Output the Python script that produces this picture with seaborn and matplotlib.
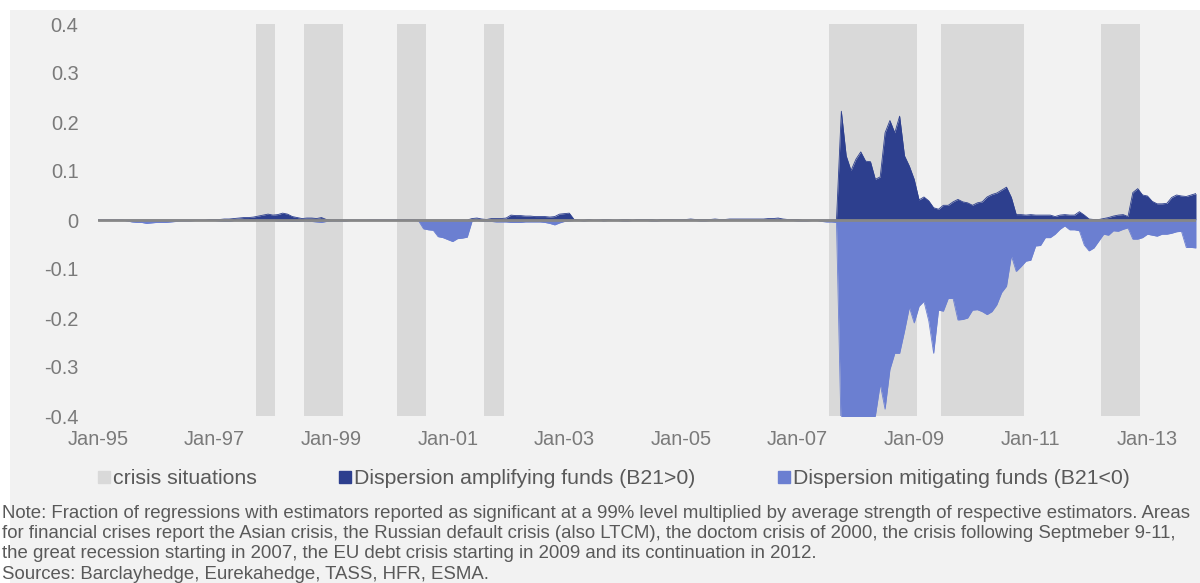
import numpy as np
import pandas as pd
import matplotlib
matplotlib.use("Agg")
import matplotlib.pyplot as plt
import seaborn as sns
from matplotlib.lines import Line2D
from matplotlib.patches import Rectangle

START_MONTH = "1995-01"

# Monthly values, Jan-95 .. Nov-13 (one row per year)
AMPLIFYING = [
    0, 0, 0, 0, 0, 0, 0, 0, 0, 0, 0, 0,
    0, 0, 0, 0, 0, 0, 0, 0, 0, 0, 0, 0.001,
    0.001, 0.001, 0.002, 0.002, 0.003, 0.004, 0.005, 0.005, 0.006, 0.008, 0.010, 0.012,
    0.010, 0.011, 0.014, 0.012, 0.007, 0.005, 0.003, 0.004, 0.004, 0.003, 0.005, 0.001,
    0, 0, 0, 0, 0, 0, 0, 0, 0, 0, 0, 0,
    0, 0, 0, 0, 0, 0, 0, 0, 0, 0, 0, 0,
    0, 0, 0, 0, 0, 0.003, 0.004, 0.002, 0.001, 0.003, 0.003, 0.003,
    0.004, 0.010, 0.009, 0.009, 0.008, 0.008, 0.007, 0.007, 0.007, 0.006, 0.007, 0.012,
    0.013, 0.014, 0.001, 0, 0, 0.001, 0, 0, 0.001, 0.001, 0, 0,
    0.001, 0.001, 0, 0.001, 0.001, 0.001, 0.001, 0, 0.001, 0.001, 0.001, 0.001,
    0.001, 0.001, 0.002, 0.001, 0.001, 0.001, 0.001, 0.002, 0.001, 0.001, 0.002, 0.002,
    0.002, 0.002, 0.002, 0.002, 0.002, 0.002, 0.003, 0.003, 0.004, 0.002, 0.001, 0.001,
    0.001, 0, 0, 0, 0, 0, 0, 0, 0, 0.222, 0.131, 0.101,
    0.124, 0.139, 0.120, 0.119, 0.083, 0.088, 0.178, 0.203, 0.178, 0.212, 0.131, 0.110,
    0.083, 0.041, 0.047, 0.039, 0.025, 0.022, 0.030, 0.030, 0.037, 0.042, 0.037, 0.035,
    0.030, 0.035, 0.037, 0.047, 0.052, 0.055, 0.061, 0.067, 0.046, 0.011, 0.011, 0.010,
    0.011, 0.010, 0.010, 0.010, 0.010, 0.007, 0.010, 0.011, 0.010, 0.010, 0.017, 0.010,
    0.002, 0.001, 0.001, 0.003, 0.005, 0.008, 0.010, 0.011, 0.007, 0.056, 0.064, 0.051,
    0.049, 0.038, 0.033, 0.033, 0.034, 0.046, 0.051, 0.049, 0.048, 0.051, 0.054,
]

MITIGATING = [
    0, 0, 0, 0, 0, 0, -0.002, -0.004, -0.005, -0.005, -0.007, -0.006,
    -0.005, -0.005, -0.005, -0.004, -0.003, -0.002, -0.002, -0.002, -0.001, -0.001, -0.001, -0.001,
    -0.001, -0.002, -0.003, -0.003, -0.001, 0, 0, 0, 0, 0, 0, -0.001,
    -0.001, -0.002, -0.002, -0.002, -0.003, -0.003, -0.002, -0.002, -0.003, -0.004, -0.005, -0.003,
    -0.002, -0.002, -0.002, -0.002, -0.001, -0.001, -0.001, -0.001, 0, 0, 0, 0,
    0, 0, 0, 0, 0, 0, -0.002, -0.018, -0.020, -0.021, -0.034, -0.036,
    -0.040, -0.044, -0.038, -0.037, -0.035, -0.002, -0.001, -0.002, -0.003, -0.003, -0.004, -0.004,
    -0.004, -0.005, -0.005, -0.005, -0.004, -0.004, -0.004, -0.004, -0.005, -0.007, -0.010, -0.006,
    -0.003, -0.002, -0.001, -0.001, -0.002, -0.001, -0.001, 0, -0.002, -0.001, -0.001, -0.001,
    -0.002, -0.002, -0.001, -0.001, -0.001, -0.001, -0.002, -0.002, -0.001, -0.001, -0.001, 0,
    0, -0.001, -0.001, -0.001, -0.002, -0.002, -0.001, 0, 0, -0.001, 0, 0,
    0, 0, 0, 0, 0, 0, 0, 0, 0, -0.001, 0, -0.001,
    -0.002, -0.002, -0.002, -0.001, -0.001, -0.003, -0.004, -0.004, -0.005, -0.45, -0.45, -0.45,
    -0.45, -0.45, -0.45, -0.45, -0.40, -0.335, -0.386, -0.305, -0.272, -0.272, -0.227, -0.178,
    -0.210, -0.176, -0.166, -0.206, -0.272, -0.184, -0.186, -0.160, -0.160, -0.204, -0.203, -0.200,
    -0.184, -0.183, -0.187, -0.193, -0.187, -0.173, -0.148, -0.135, -0.073, -0.105, -0.095, -0.084,
    -0.082, -0.053, -0.052, -0.036, -0.036, -0.029, -0.019, -0.012, -0.020, -0.020, -0.022, -0.051,
    -0.063, -0.057, -0.043, -0.029, -0.031, -0.022, -0.023, -0.019, -0.016, -0.039, -0.039, -0.036,
    -0.029, -0.031, -0.033, -0.029, -0.029, -0.027, -0.024, -0.023, -0.056, -0.056, -0.057,
]

CRISIS_START = ["1997-10", "1998-08", "2000-03", "2001-09", "2007-08", "2009-07", "2012-04"]
CRISIS_END = ["1998-01", "1999-03", "2000-08", "2001-12", "2009-01", "2010-11", "2012-11"]

Y_TICKS = [0.4, 0.3, 0.2, 0.1, 0, -0.1, -0.2, -0.3, -0.4]
Y_LABELS = ["0.4", "0.3", "0.2", "0.1", "0", "-0.1", "-0.2", "-0.3", "-0.4"]

LEGEND_LABELS = ["crisis situations", "Dispersion amplifying funds (B21>0)",
                 "Dispersion mitigating funds (B21<0)"]

NOTE_LINES = [
    "Note: Fraction of regressions with estimators reported as significant at a 99% level multiplied by average strength of respective estimators. Areas",
    "for financial crises report the Asian crisis, the Russian default crisis (also LTCM), the doctom crisis of 2000, the crisis following Septmeber 9-11,",
    "the great recession starting in 2007, the EU debt crisis starting in 2009 and its continuation in 2012.",
    "Sources: Barclayhedge, Eurekahedge, TASS, HFR, ESMA.",
]

DARK = "#2d3f8e"
LIGHT = "#6b7fd1"
BAND = "#d9d9d9"
BG = "#f2f2f2"

sns.set_theme(style="white")
plt.rcParams["font.family"] = ["Liberation Sans", "DejaVu Sans"]

dates = pd.period_range(START_MONTH, periods=len(AMPLIFYING), freq="M")
df = pd.DataFrame({
    "month": np.arange(len(dates)),
    "amplifying": AMPLIFYING,
    "mitigating": MITIGATING,
})

fig = plt.figure(figsize=(12, 5.83), dpi=100, facecolor="white")
fig.patches.append(Rectangle((10 / 1200, 0), 1, 1 - 10 / 583, transform=fig.transFigure,
                             facecolor=BG, edgecolor="none", zorder=-5))
ax = fig.add_axes([98 / 1200, 1 - 416 / 583, (1196 - 98) / 1200, (416 - 24) / 583])
ax.set_facecolor(BG)

# crisis periods as full-height bands, one month wide per bar
for s, e in zip(CRISIS_START, CRISIS_END):
    i0 = (pd.Period(s, "M") - dates[0]).n
    i1 = (pd.Period(e, "M") - dates[0]).n
    ax.axvspan(i0 - 0.5, i1 + 0.5, color=BAND, lw=0, zorder=1)

ax.fill_between(df["month"], 0, df["amplifying"], color=DARK, lw=0, zorder=2)
ax.fill_between(df["month"], 0, df["mitigating"], color=LIGHT, lw=0, zorder=2)
sns.lineplot(data=df, x="month", y="amplifying", color=DARK, lw=0.6, ax=ax, zorder=3)
sns.lineplot(data=df, x="month", y="mitigating", color=LIGHT, lw=0.6, ax=ax, zorder=3)
ax.axhline(0, color="#878787", lw=2, zorder=4)

ax.set_xlim(0, len(dates) - 1)
ax.set_ylim(-0.4, 0.4)
xt = np.arange(0, len(dates), 24)
ax.set_xticks(xt)
ax.set_xticklabels([dates[i].strftime("%b-%y") for i in xt])
ax.set_yticks(Y_TICKS)
ax.set_yticklabels(Y_LABELS)
ax.set_xlabel("")
ax.set_ylabel("")
ax.tick_params(axis="both", length=0, labelsize=14.4, colors="#7a7a7a")
ax.tick_params(axis="y", pad=14)
ax.tick_params(axis="x", pad=10)
for sp in ax.spines.values():
    sp.set_visible(False)

handles = [Line2D([], [], ls="", marker="s", markersize=9, color=c) for c in (BAND, DARK, LIGHT)]
fig.legend(handles, LEGEND_LABELS, loc="center", bbox_to_anchor=(0.511, 1 - 479 / 583),
           ncol=3, frameon=False, fontsize=15.3, handlelength=0.7, handletextpad=0.08,
           columnspacing=3.8, labelcolor="#595959")

for k, line in enumerate(NOTE_LINES):
    fig.text(2 / 1200, 1 - (513 + 20.5 * k) / 583, line, ha="left", va="center",
             fontsize=13.4, color="#595959")

fig.savefig("out.png", dpi=100, facecolor=fig.get_facecolor())
